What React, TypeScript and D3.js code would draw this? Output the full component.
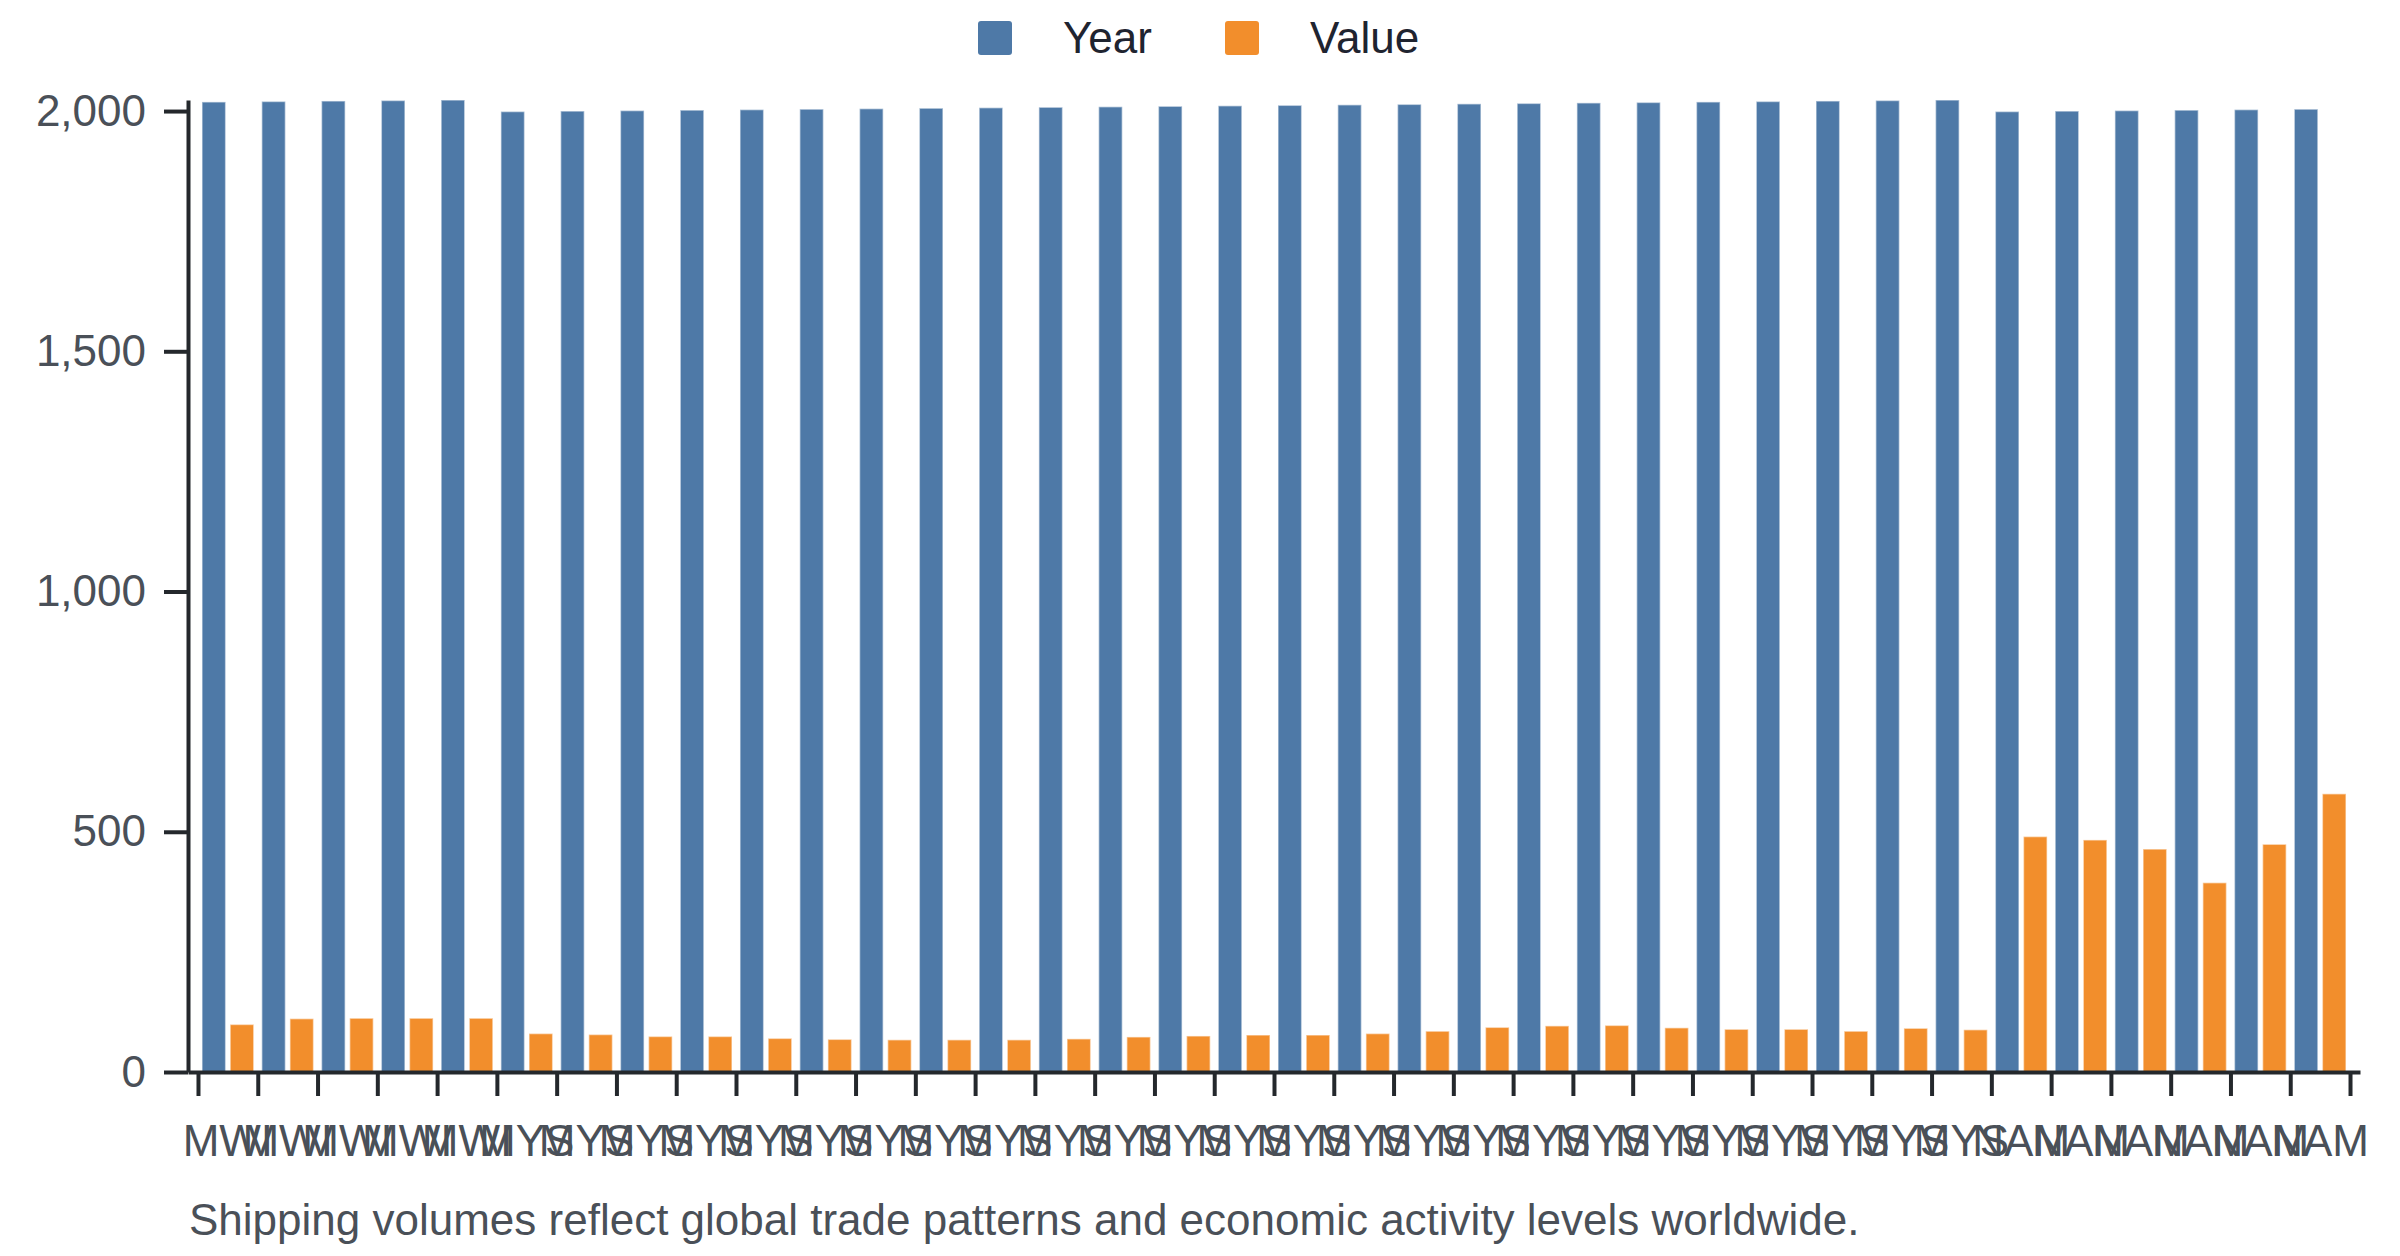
import React, { useEffect, useRef } from 'react';
import * as d3 from 'd3';

// table rows: country code, year, value (chart plots Year and Value as two series)
const countries = [
  'MWI', 'MWI', 'MWI', 'MWI', 'MWI',
  'MYS', 'MYS', 'MYS', 'MYS', 'MYS', 'MYS', 'MYS', 'MYS', 'MYS', 'MYS',
  'MYS', 'MYS', 'MYS', 'MYS', 'MYS', 'MYS', 'MYS', 'MYS', 'MYS', 'MYS',
  'MYS', 'MYS', 'MYS', 'MYS', 'MYS',
  'NAM', 'NAM', 'NAM', 'NAM', 'NAM', 'NAM',
];

const years = [
  2019, 2020, 2021, 2022, 2023,
  1999, 2000, 2001, 2002, 2003, 2004, 2005, 2006, 2007, 2008,
  2009, 2010, 2011, 2012, 2013, 2014, 2015, 2016, 2017, 2018,
  2019, 2020, 2021, 2022, 2023,
  1999, 2000, 2001, 2002, 2003, 2004,
];

const values = [
  99, 111, 112, 112, 112,
  80, 78, 74, 74, 70, 68, 67, 67, 67, 69,
  73, 75, 77, 77, 80, 85, 93, 96, 97, 92,
  89, 89, 85, 91, 88,
  490, 483, 464, 394, 474, 579,
];

const seriesNames = ['Year', 'Value'];
const seriesColors = ['#4e79a7', '#f28e2c'];
const yTicks = [0, 500, 1000, 1500, 2000];
const caption = 'Shipping volumes reflect global trade patterns and economic activity levels worldwide.';

const App: React.FC = () => {
  const svgRef = useRef<SVGSVGElement | null>(null);

  useEffect(() => {
    document.body.style.margin = '0';
    if (!svgRef.current) return;

    const width = 2400;
    const height = 1256;
    const margin = { top: 100, right: 40, bottom: 184, left: 188 };
    const font = '"Liberation Sans", Arial, sans-serif';
    const fontSize = 44;
    const axisColor = '#24282c';
    const labelColor = '#4a5058';

    const svg = d3.select(svgRef.current)
      .attr('viewBox', `0 0 ${width} ${height}`);
    svg.selectAll('*').remove();

    const rows = countries.map((c, i) => ({ i, country: c, Year: years[i], Value: values[i] }));

    const x0 = d3.scaleBand<number>()
      .domain(rows.map(d => d.i))
      .range([margin.left, width - margin.right])
      .paddingInner(0)
      .paddingOuter(0.167);

    const x1 = d3.scaleBand<string>()
      .domain(seriesNames)
      .range([4, x0.bandwidth() - 4])
      .paddingInner(0.16);

    const y = d3.scaleLinear()
      .domain([0, d3.max(rows, d => Math.max(d.Year, d.Value))!])
      .range([height - margin.bottom, margin.top]);

    // bars
    const groups = svg.append('g')
      .selectAll('g')
      .data(rows)
      .join('g')
      .attr('transform', d => `translate(${x0(d.i)},0)`);

    groups.selectAll('rect')
      .data(d => seriesNames.map((k, j) => ({ key: k, value: (d as any)[k] as number, color: seriesColors[j] })))
      .join('rect')
      .attr('x', d => x1(d.key)!)
      .attr('y', d => y(d.value))
      .attr('width', x1.bandwidth())
      .attr('height', d => y(0) - y(d.value))
      .attr('fill', d => d.color)
      .attr('stroke', '#ffffff')
      .attr('stroke-opacity', 0.5)
      .attr('stroke-width', 1.5);

    // x axis: labels at band centres
    const xAxis = svg.append('g')
      .attr('transform', `translate(0,${y(0)})`)
      .call(d3.axisBottom(x0)
        .tickSize(0)
        .tickSizeOuter(0)
        .tickPadding(53)
        .tickFormat(i => countries[i as number]));
    xAxis.select('.domain').attr('stroke', axisColor).attr('stroke-width', 4);
    xAxis.selectAll('text')
      .attr('font-size', fontSize)
      .attr('font-family', font)
      .attr('fill', labelColor);

    // x axis: tick marks at band edges
    const edge = d3.scaleLinear()
      .domain([0, rows.length])
      .range([x0(0)!, x0(rows.length - 1)! + x0.bandwidth()]);
    const xTicks = svg.append('g')
      .attr('transform', `translate(0,${y(0)})`)
      .call(d3.axisBottom(edge)
        .tickValues(d3.range(rows.length + 1))
        .tickSize(24)
        .tickFormat(() => ''));
    xTicks.select('.domain').remove();
    xTicks.selectAll('line').attr('stroke', axisColor).attr('stroke-width', 4);

    // y axis
    const yAxis = svg.append('g')
      .attr('transform', `translate(${margin.left},0)`)
      .call(d3.axisLeft(y)
        .tickValues(yTicks)
        .tickFormat(d3.format(','))
        .tickSize(24)
        .tickSizeOuter(0)
        .tickPadding(18));
    yAxis.select('.domain').attr('stroke', axisColor).attr('stroke-width', 4);
    yAxis.selectAll('line').attr('stroke', axisColor).attr('stroke-width', 4);
    yAxis.selectAll('text')
      .attr('font-size', fontSize)
      .attr('font-family', font)
      .attr('fill', labelColor);

    // legend
    const legendX = [978, 1225];
    const legend = svg.append('g')
      .selectAll('g')
      .data(seriesNames)
      .join('g')
      .attr('transform', (_, j) => `translate(${legendX[j]},21)`);
    legend.append('rect')
      .attr('width', 34)
      .attr('height', 34)
      .attr('rx', 3)
      .attr('fill', (_, j) => seriesColors[j]);
    legend.append('text')
      .attr('x', 85)
      .attr('y', 32)
      .attr('font-size', fontSize)
      .attr('font-family', font)
      .attr('fill', '#1f2430')
      .text(d => d);

    // caption
    svg.append('text')
      .attr('x', margin.left + 1)
      .attr('y', 1235)
      .attr('font-size', fontSize)
      .attr('font-family', font)
      .attr('fill', labelColor)
      .text(caption);
  }, []);

  return (
    <svg ref={svgRef} width={2400} height={1256} style={{ display: 'block', background: '#ffffff' }} />
  );
};

export default App;
